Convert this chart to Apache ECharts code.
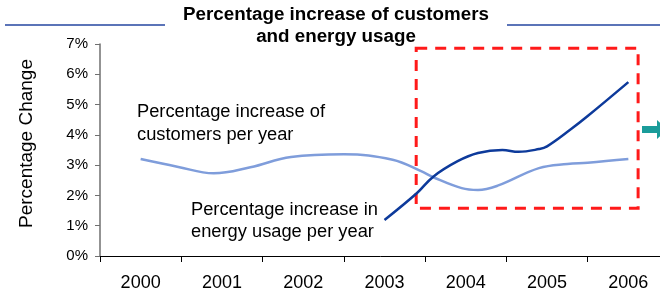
<!DOCTYPE html>
<html>
<head>
<meta charset="utf-8">
<script src="https://cdn.jsdelivr.net/npm/echarts@6/dist/echarts.min.js"></script>
<style>
  html, body { margin: 0; padding: 0; background: #fff; }
  #chart { width: 660px; height: 295px; }
</style>
</head>
<body>
<div id="chart"></div>
<script>
// category labels on the x axis
const years = ['2000', '2001', '2002', '2003', '2004', '2005', '2006'];

// customers growth (x in fractional years)
const customerYears = [2000.0, 2000.45, 2000.9, 2001.35, 2001.85, 2002.5, 2003.1, 2003.45, 2003.6, 2003.95, 2004.15, 2004.4, 2004.9, 2005.25, 2005.5, 2006.0];
const customerPct   = [3.2, 2.95, 2.73, 2.93, 3.27, 3.36, 3.18, 2.8, 2.6, 2.24, 2.18, 2.33, 2.9, 3.04, 3.08, 3.2];

// energy usage growth, dark line
const energyYears = [2003.0, 2003.4, 2003.6, 2003.9, 2004.15, 2004.45, 2004.65, 2004.9, 2005.0, 2005.3, 2005.5, 2006.0];
const energyPct   = [1.19, 2.08, 2.62, 3.13, 3.4, 3.5, 3.44, 3.53, 3.62, 4.2, 4.62, 5.74];

// dashed focus box, [x0, y0, x1, y1] in data units
const focusBox = [2003.39, 6.86, 2006.12, 1.58];

const font = 'Arial, "Liberation Sans", sans-serif';

function pairs(xs, ys) {
  return xs.map((x, i) => [x, ys[i]]);
}

const chart = echarts.init(document.getElementById('chart'));

const option = {
  animation: false,
  textStyle: { fontFamily: font, color: '#000' },
  grid: { left: 100, top: 44, width: 569, height: 212, outerBoundsMode: 'none' },
  xAxis: [
    {
      type: 'category',
      data: years,
      boundaryGap: true,
      axisLine: { lineStyle: { color: '#000', width: 1 } },
      axisTick: { show: true, interval: 0, length: 6, lineStyle: { color: '#000' } },
      axisLabel: { color: '#000', fontSize: 18, margin: 18, fontFamily: font },
      splitLine: { show: false }
    },
    {
      type: 'value',
      min: 1999.5,
      max: 2006.5,
      show: false
    }
  ],
  yAxis: {
    type: 'value',
    min: 0,
    max: 7,
    interval: 1,
    name: 'Percentage Change',
    nameLocation: 'middle',
    nameRotate: 90,
    nameGap: 64,
    nameTextStyle: { fontSize: 19, color: '#000', fontFamily: font, padding: [0, 0, 0, 13] },
    axisLine: { show: true, lineStyle: { color: '#6f6f6f', width: 1.5 } },
    axisTick: { show: true, length: 5, lineStyle: { color: '#6f6f6f' } },
    axisLabel: { formatter: '{value}%', fontSize: 15, color: '#000', margin: 12, fontFamily: font },
    splitLine: { show: false }
  },
  series: [
    {
      name: 'Customers',
      type: 'line',
      xAxisIndex: 1,
      data: pairs(customerYears, customerPct),
      smooth: 0.4,
      symbol: 'none',
      lineStyle: { color: '#7f9ddb', width: 2.5 }
    },
    {
      name: 'Energy usage',
      type: 'line',
      xAxisIndex: 1,
      data: pairs(energyYears, energyPct),
      smooth: 0.4,
      symbol: 'none',
      lineStyle: { color: '#0d3a9b', width: 2.5 },
      markArea: {
        silent: true,
        itemStyle: {
          color: 'rgba(0,0,0,0)',
          borderColor: '#ff1a1a',
          borderWidth: 3,
          borderType: [11, 8]
        },
        data: [[
          { coord: [focusBox[0], focusBox[1]] },
          { coord: [focusBox[2], focusBox[3]] }
        ]]
      }
    }
  ],
  graphic: [
    // header rules either side of the title
    { type: 'line', shape: { x1: 5, y1: 25, x2: 165, y2: 25 }, style: { stroke: '#2446a0', lineWidth: 1.5 } },
    { type: 'line', shape: { x1: 507, y1: 25, x2: 660, y2: 25 }, style: { stroke: '#2446a0', lineWidth: 1.5 } },
    {
      type: 'text', x: 336, y: 4,
      style: {
        text: 'Percentage increase of customers\nand energy usage',
        font: 'bold 18.8px ' + font, fill: '#000',
        align: 'center', lineHeight: 22
      }
    },
    {
      type: 'text', x: 137, y: 100,
      style: {
        text: 'Percentage increase of\ncustomers per year',
        font: '18.3px ' + font, fill: '#000', lineHeight: 23
      }
    },
    {
      type: 'text', x: 191, y: 199,
      style: {
        text: 'Percentage increase in\nenergy usage per year',
        font: '18.3px ' + font, fill: '#000', lineHeight: 22
      }
    },
    // teal arrow peeking in at the right edge
    {
      type: 'polygon',
      shape: { points: [[642, 126], [657, 126], [657, 120], [667, 129.5], [657, 139], [657, 133], [642, 133]] },
      style: { fill: '#1a9c9a' }
    }
  ]
};

chart.setOption(option);
</script>
</body>
</html>
